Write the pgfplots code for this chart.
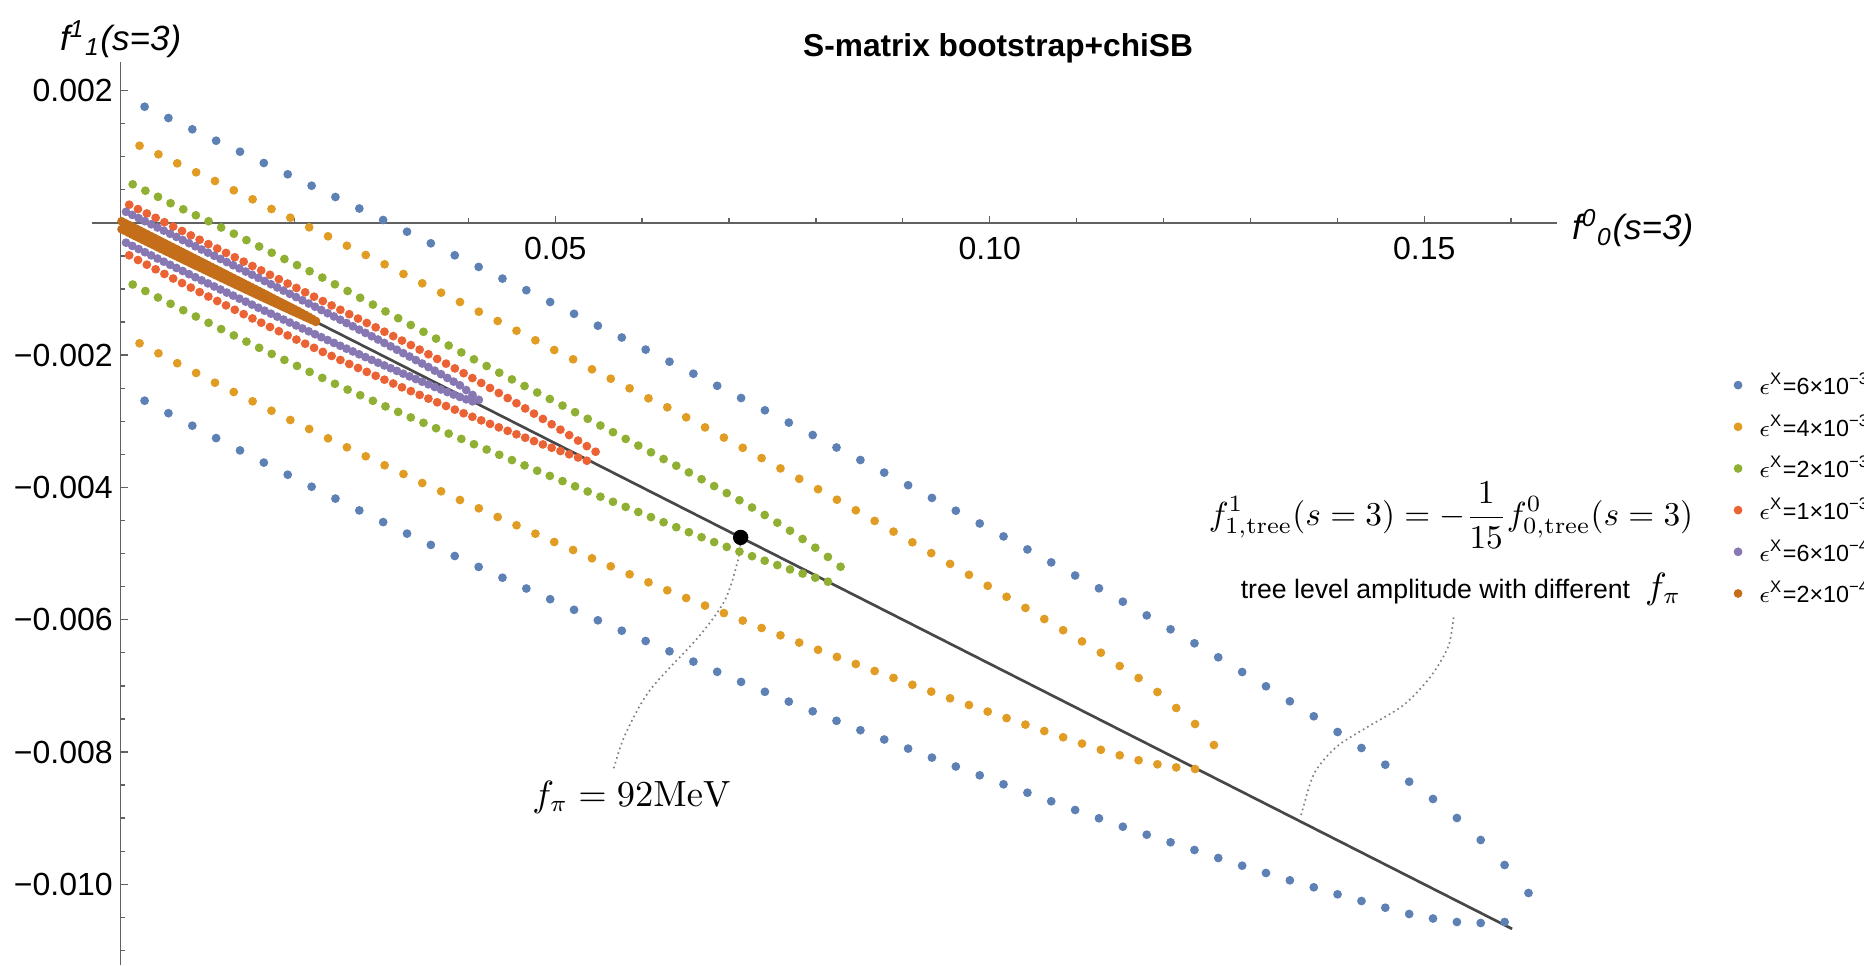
\documentclass[border=0pt]{standalone}
\usepackage[no-math]{fontspec}
\setmainfont{Liberation Sans}
\usepackage{pgfplots}
\usepackage{pgfplotstable}
\pgfplotsset{compat=1.18}
\definecolor{cA}{HTML}{5E81B5}
\definecolor{cB}{HTML}{E19C24}
\definecolor{cC}{HTML}{8FB032}
\definecolor{cD}{HTML}{EB6235}
\definecolor{cE}{HTML}{8778B3}
\definecolor{cF}{HTML}{C56E1A}

% eps = 6e-3 : x, upper bound, lower bound
\pgfplotstableread{
x u l
0.00275 1.7551e-3 -2.6893e-3
0.00549 1.5843e-3 -2.8783e-3
0.00824 1.4135e-3 -3.0673e-3
0.01098 1.2411e-3 -3.2547e-3
0.01373 1.0748e-3 -3.4407e-3
0.01647 0.9040e-3 -3.6251e-3
0.01922 0.7332e-3 -3.8080e-3
0.02197 0.5609e-3 -3.9894e-3
0.02471 0.3900e-3 -4.1693e-3
0.02746 0.2162e-3 -4.3477e-3
0.03020 0.0423e-3 -4.5246e-3
0.03295 -0.1345e-3 -4.6984e-3
0.03569 -0.3099e-3 -4.8692e-3
0.03844 -0.4913e-3 -5.0370e-3
0.04119 -0.6667e-3 -5.2018e-3
0.04393 -0.8435e-3 -5.3651e-3
0.04668 -1.0189e-3 -5.5283e-3
0.04942 -1.1973e-3 -5.6901e-3
0.05217 -1.3757e-3 -5.8504e-3
0.05491 -1.5556e-3 -6.0091e-3
0.05766 -1.7339e-3 -6.1663e-3
0.06041 -1.9169e-3 -6.3220e-3
0.06315 -2.0998e-3 -6.4777e-3
0.06590 -2.2812e-3 -6.6334e-3
0.06864 -2.4641e-3 -6.7876e-3
0.07139 -2.6486e-3 -6.9403e-3
0.07413 -2.8345e-3 -7.0900e-3
0.07688 -3.0204e-3 -7.2381e-3
0.07963 -3.2079e-3 -7.3847e-3
0.08237 -3.3968e-3 -7.5283e-3
0.08512 -3.5858e-3 -7.6704e-3
0.08786 -3.7763e-3 -7.8110e-3
0.09061 -3.9667e-3 -7.9486e-3
0.09335 -4.1587e-3 -8.0847e-3
0.09610 -4.3522e-3 -8.2192e-3
0.09885 -4.5457e-3 -8.3522e-3
0.10159 -4.7408e-3 -8.4883e-3
0.10434 -4.9373e-3 -8.6153e-3
0.10708 -5.1338e-3 -8.7453e-3
0.10983 -5.3318e-3 -8.8768e-3
0.11257 -5.5253e-3 -9.0023e-3
0.11532 -5.7279e-3 -9.1293e-3
0.11807 -5.9350e-3 -9.2502e-3
0.12081 -6.1451e-3 -9.3651e-3
0.12356 -6.3568e-3 -9.4815e-3
0.12630 -6.5684e-3 -9.6024e-3
0.12905 -6.7906e-3 -9.7188e-3
0.13179 -7.0068e-3 -9.8292e-3
0.13454 -7.2336e-3 -9.9396e-3
0.13729 -7.4603e-3 -10.0454e-3
0.14003 -7.6977e-3 -10.1512e-3
0.14278 -7.9395e-3 -10.2525e-3
0.14552 -8.1920e-3 -10.3538e-3
0.14827 -8.4490e-3 -10.4490e-3
0.15101 -8.7105e-3 -10.5170e-3
0.15376 -8.9977e-3 -10.5699e-3
0.15650 -9.3303e-3 -10.5850e-3
0.15925 -9.7083e-3 -10.5699e-3
0.16200 -10.1315e-3 nan
}\epsA

% eps = 4e-3
\pgfplotstableread{
x u l
0.00217 1.1655e-3 -1.8216e-3
0.00434 1.0355e-3 -1.9728e-3
0.00651 0.8995e-3 -2.1224e-3
0.00868 0.7634e-3 -2.2706e-3
0.01085 0.6319e-3 -2.4172e-3
0.01301 0.4913e-3 -2.5578e-3
0.01518 0.3553e-3 -2.6984e-3
0.01735 0.2086e-3 -2.8405e-3
0.01952 0.0771e-3 -2.9811e-3
0.02169 -0.0680e-3 -3.1172e-3
0.02386 -0.2041e-3 -3.2578e-3
0.02603 -0.3462e-3 -3.3938e-3
0.02820 -0.4868e-3 -3.5299e-3
0.03037 -0.6274e-3 -3.6659e-3
0.03254 -0.7740e-3 -3.7975e-3
0.03470 -0.9146e-3 -3.9335e-3
0.03687 -1.0567e-3 -4.0590e-3
0.03904 -1.1973e-3 -4.1905e-3
0.04121 -1.3439e-3 -4.3160e-3
0.04338 -1.4845e-3 -4.4475e-3
0.04555 -1.6312e-3 -4.5730e-3
0.04772 -1.7763e-3 -4.7000e-3
0.04989 -1.9229e-3 -4.8254e-3
0.05206 -2.0635e-3 -4.9463e-3
0.05423 -2.2147e-3 -5.0718e-3
0.05639 -2.3568e-3 -5.1927e-3
0.05856 -2.5019e-3 -5.3137e-3
0.06073 -2.6531e-3 -5.4346e-3
0.06290 -2.7891e-3 -5.5556e-3
0.06507 -2.9403e-3 -5.6720e-3
0.06724 -3.0930e-3 -5.7868e-3
0.06941 -3.2472e-3 -5.9002e-3
0.07158 -3.4014e-3 -6.0136e-3
0.07375 -3.5571e-3 -6.1255e-3
0.07592 -3.7128e-3 -6.2358e-3
0.07808 -3.8700e-3 -6.3462e-3
0.08025 -4.0272e-3 -6.4550e-3
0.08242 -4.1860e-3 -6.5624e-3
0.08459 -4.3462e-3 -6.6697e-3
0.08676 -4.5065e-3 -6.7755e-3
0.08893 -4.6682e-3 -6.8798e-3
0.09110 -4.8300e-3 -6.9841e-3
0.09327 -4.9932e-3 -7.0869e-3
0.09544 -5.1565e-3 -7.1882e-3
0.09761 -5.3212e-3 -7.2895e-3
0.09977 -5.4875e-3 -7.3893e-3
0.10194 -5.6538e-3 -7.4875e-3
0.10411 -5.8216e-3 -7.5858e-3
0.10628 -5.9894e-3 -7.6825e-3
0.10845 -6.1587e-3 -7.7778e-3
0.11062 -6.3280e-3 -7.8730e-3
0.11279 -6.4989e-3 -7.9667e-3
0.11496 -6.7000e-3 -8.0499e-3
0.11713 -6.8814e-3 -8.1240e-3
0.11930 -7.0930e-3 -8.1859e-3
0.12146 -7.3349e-3 -8.2328e-3
0.12363 -7.5768e-3 -8.2570e-3
0.12580 -7.8942e-3 nan
}\epsB

% eps = 2e-3
\pgfplotstableread{
x u l
0.00138 0.5820e-3 -0.9327e-3
0.00284 0.4853e-3 -1.0310e-3
0.00429 0.3930e-3 -1.1293e-3
0.00574 0.2963e-3 -1.2245e-3
0.00720 0.2041e-3 -1.3212e-3
0.00865 0.1134e-3 -1.4165e-3
0.01011 0.0242e-3 -1.5117e-3
0.01156 -0.0711e-3 -1.6070e-3
0.01302 -0.1648e-3 -1.7022e-3
0.01447 -0.2615e-3 -1.7959e-3
0.01593 -0.3583e-3 -1.8896e-3
0.01738 -0.4520e-3 -1.9819e-3
0.01884 -0.5472e-3 -2.0726e-3
0.02029 -0.6395e-3 -2.1633e-3
0.02174 -0.7317e-3 -2.2540e-3
0.02320 -0.8284e-3 -2.3447e-3
0.02465 -0.9297e-3 -2.4339e-3
0.02611 -1.0310e-3 -2.5216e-3
0.02756 -1.1338e-3 -2.6062e-3
0.02902 -1.2366e-3 -2.6909e-3
0.03047 -1.3394e-3 -2.7755e-3
0.03193 -1.4422e-3 -2.8587e-3
0.03338 -1.5450e-3 -2.9418e-3
0.03484 -1.6478e-3 -3.0234e-3
0.03629 -1.7506e-3 -3.1051e-3
0.03774 -1.8549e-3 -3.1867e-3
0.03920 -1.9592e-3 -3.2668e-3
0.04065 -2.0635e-3 -3.3470e-3
0.04211 -2.1648e-3 -3.4271e-3
0.04356 -2.2661e-3 -3.5072e-3
0.04502 -2.3673e-3 -3.5873e-3
0.04647 -2.4671e-3 -3.6674e-3
0.04793 -2.5654e-3 -3.7476e-3
0.04938 -2.6636e-3 -3.8262e-3
0.05084 -2.7634e-3 -3.9048e-3
0.05229 -2.8632e-3 -3.9834e-3
0.05374 -2.9630e-3 -4.0620e-3
0.05520 -3.0643e-3 -4.1406e-3
0.05665 -3.1655e-3 -4.2177e-3
0.05811 -3.2668e-3 -4.2948e-3
0.05956 -3.3681e-3 -4.3719e-3
0.06102 -3.4694e-3 -4.4490e-3
0.06247 -3.5707e-3 -4.5261e-3
0.06393 -3.6720e-3 -4.6017e-3
0.06538 -3.7732e-3 -4.6773e-3
0.06684 -3.8761e-3 -4.7529e-3
0.06829 -3.9803e-3 -4.8269e-3
0.06974 -4.0862e-3 -4.8995e-3
0.07120 -4.1935e-3 -4.9705e-3
0.07265 -4.3039e-3 -5.0401e-3
0.07411 -4.4172e-3 -5.1081e-3
0.07556 -4.5337e-3 -5.1746e-3
0.07702 -4.6546e-3 -5.2396e-3
0.07847 -4.7800e-3 -5.3031e-3
0.07993 -4.9116e-3 -5.3651e-3
0.08138 -5.0507e-3 -5.4256e-3
0.08284 -5.1988e-3 nan
}\epsC

% eps = 1e-3
\pgfplotstableread{
x u l
0.00098 0.2736e-3 -0.4913e-3
0.00199 0.2074e-3 -0.5624e-3
0.00301 0.1412e-3 -0.6330e-3
0.00402 0.0750e-3 -0.7031e-3
0.00503 0.0088e-3 -0.7728e-3
0.00604 -0.0574e-3 -0.8422e-3
0.00706 -0.1237e-3 -0.9110e-3
0.00807 -0.1899e-3 -0.9793e-3
0.00908 -0.2561e-3 -1.0473e-3
0.01009 -0.3223e-3 -1.1147e-3
0.01111 -0.3885e-3 -1.1819e-3
0.01212 -0.4547e-3 -1.2484e-3
0.01313 -0.5209e-3 -1.3146e-3
0.01415 -0.5872e-3 -1.3804e-3
0.01516 -0.6534e-3 -1.4457e-3
0.01617 -0.7196e-3 -1.5104e-3
0.01718 -0.7858e-3 -1.5748e-3
0.01820 -0.8520e-3 -1.6387e-3
0.01921 -0.9182e-3 -1.7022e-3
0.02022 -0.9844e-3 -1.7652e-3
0.02123 -1.0507e-3 -1.8278e-3
0.02225 -1.1169e-3 -1.8901e-3
0.02326 -1.1831e-3 -1.9518e-3
0.02427 -1.2493e-3 -2.0130e-3
0.02528 -1.3155e-3 -2.0739e-3
0.02630 -1.3817e-3 -2.1342e-3
0.02731 -1.4479e-3 -2.1943e-3
0.02832 -1.5141e-3 -2.2537e-3
0.02934 -1.5804e-3 -2.3128e-3
0.03035 -1.6466e-3 -2.3713e-3
0.03136 -1.7131e-3 -2.4295e-3
0.03237 -1.7804e-3 -2.4872e-3
0.03339 -1.8485e-3 -2.5445e-3
0.03440 -1.9173e-3 -2.6014e-3
0.03541 -1.9870e-3 -2.6578e-3
0.03642 -2.0575e-3 -2.7137e-3
0.03744 -2.1288e-3 -2.7692e-3
0.03845 -2.2008e-3 -2.8242e-3
0.03946 -2.2736e-3 -2.8788e-3
0.04047 -2.3473e-3 -2.9329e-3
0.04149 -2.4216e-3 -2.9867e-3
0.04250 -2.4969e-3 -3.0399e-3
0.04351 -2.5728e-3 -3.0927e-3
0.04453 -2.6496e-3 -3.1451e-3
0.04554 -2.7271e-3 -3.1970e-3
0.04655 -2.8056e-3 -3.2486e-3
0.04756 -2.8847e-3 -3.2996e-3
0.04858 -2.9646e-3 -3.3503e-3
0.04959 -3.0454e-3 -3.4005e-3
0.05060 -3.1268e-3 -3.4502e-3
0.05161 -3.2092e-3 -3.4995e-3
0.05263 -3.2922e-3 -3.5483e-3
0.05364 -3.3761e-3 -3.5967e-3
0.05465 -3.4608e-3 nan
}\epsD

% eps = 6e-4
\pgfplotstableread{
x u l
0.000610 166.3e-6 -300.7e-6
0.001335 119.0e-6 -349.0e-6
0.002060 71.7e-6 -396.3e-6
0.002785 24.3e-6 -444.7e-6
0.003510 -23.0e-6 -492.0e-6
0.004235 -71.3e-6 -540.3e-6
0.004960 -118.7e-6 -587.7e-6
0.005685 -166.0e-6 -635.0e-6
0.006410 -213.3e-6 -682.3e-6
0.007135 -260.7e-6 -728.7e-6
0.007860 -308.0e-6 -776.0e-6
0.008585 -355.3e-6 -822.3e-6
0.009310 -403.7e-6 -869.7e-6
0.010035 -451.0e-6 -916.0e-6
0.010760 -498.3e-6 -962.3e-6
0.011485 -546.7e-6 -1008.7e-6
0.012210 -594.0e-6 -1055.0e-6
0.012935 -641.3e-6 -1100.3e-6
0.013660 -688.7e-6 -1146.7e-6
0.014385 -737.0e-6 -1192.0e-6
0.015110 -784.3e-6 -1237.3e-6
0.015835 -831.7e-6 -1283.7e-6
0.016560 -880.0e-6 -1329.0e-6
0.017285 -928.3e-6 -1373.3e-6
0.018010 -976.7e-6 -1418.7e-6
0.018735 -1025.0e-6 -1463.0e-6
0.019460 -1074.3e-6 -1507.3e-6
0.020185 -1122.7e-6 -1551.7e-6
0.020910 -1172.0e-6 -1597.0e-6
0.021635 -1220.3e-6 -1640.3e-6
0.022360 -1268.7e-6 -1684.7e-6
0.023085 -1318.0e-6 -1729.0e-6
0.023810 -1366.3e-6 -1772.3e-6
0.024535 -1415.7e-6 -1815.7e-6
0.025260 -1465.0e-6 -1859.0e-6
0.025985 -1515.3e-6 -1902.3e-6
0.026710 -1564.7e-6 -1944.7e-6
0.027435 -1615.0e-6 -1988.0e-6
0.028160 -1664.3e-6 -2030.3e-6
0.028885 -1714.7e-6 -2072.7e-6
0.029610 -1765.0e-6 -2115.0e-6
0.030335 -1816.3e-6 -2156.3e-6
0.031060 -1867.7e-6 -2197.7e-6
0.031785 -1919.0e-6 -2239.0e-6
0.032510 -1970.3e-6 -2280.3e-6
0.033235 -2021.7e-6 -2321.7e-6
0.033960 -2075.0e-6 -2362.0e-6
0.034685 -2127.3e-6 -2402.3e-6
0.035410 -2180.7e-6 -2441.7e-6
0.036135 -2235.0e-6 -2482.0e-6
0.036860 -2288.3e-6 -2520.3e-6
0.037585 -2344.7e-6 -2558.7e-6
0.038310 -2401.0e-6 -2597.0e-6
0.039035 -2456.3e-6 -2633.3e-6
0.039760 -2528.7e-6 -2668.7e-6
0.040485 -2602.0e-6 -2699.0e-6
0.041210 -2676.3e-6 nan
}\epsE

% eps = 2e-4
\pgfplotstableread{
x u l
0.000100 23.3e-6 -96.7e-6
0.000514 -4.3e-6 -124.3e-6
0.000928 -31.9e-6 -151.9e-6
0.001342 -59.5e-6 -179.5e-6
0.001756 -87.1e-6 -207.1e-6
0.002170 -114.7e-6 -233.7e-6
0.002584 -142.3e-6 -261.3e-6
0.002998 -169.9e-6 -287.9e-6
0.003412 -197.5e-6 -314.5e-6
0.003826 -225.1e-6 -341.1e-6
0.004240 -252.7e-6 -368.7e-6
0.004654 -280.3e-6 -395.3e-6
0.005068 -307.9e-6 -421.9e-6
0.005482 -335.5e-6 -447.5e-6
0.005896 -363.1e-6 -475.1e-6
0.006310 -390.7e-6 -500.7e-6
0.006724 -418.3e-6 -527.3e-6
0.007138 -445.9e-6 -553.9e-6
0.007552 -473.5e-6 -579.5e-6
0.007966 -501.1e-6 -606.1e-6
0.008380 -528.7e-6 -632.7e-6
0.008794 -556.3e-6 -658.3e-6
0.009208 -583.9e-6 -683.9e-6
0.009622 -611.5e-6 -710.5e-6
0.010036 -639.1e-6 -736.1e-6
0.010450 -666.7e-6 -762.7e-6
0.010864 -694.3e-6 -788.3e-6
0.011278 -721.9e-6 -813.9e-6
0.011692 -749.5e-6 -840.5e-6
0.012106 -777.1e-6 -866.1e-6
0.012520 -804.7e-6 -892.7e-6
0.012934 -832.3e-6 -917.3e-6
0.013348 -859.9e-6 -943.9e-6
0.013762 -887.5e-6 -969.5e-6
0.014176 -915.1e-6 -995.1e-6
0.014590 -942.7e-6 -1020.7e-6
0.015004 -970.3e-6 -1046.3e-6
0.015418 -997.9e-6 -1071.9e-6
0.015832 -1025.5e-6 -1097.5e-6
0.016246 -1053.1e-6 -1123.1e-6
0.016660 -1081.7e-6 -1148.7e-6
0.017074 -1109.3e-6 -1173.3e-6
0.017488 -1137.9e-6 -1198.9e-6
0.017902 -1165.5e-6 -1223.5e-6
0.018316 -1193.1e-6 -1249.1e-6
0.018730 -1220.7e-6 -1274.7e-6
0.019144 -1248.3e-6 -1299.3e-6
0.019558 -1275.9e-6 -1324.9e-6
0.019972 -1303.5e-6 -1349.5e-6
0.020386 -1331.1e-6 -1374.1e-6
0.020800 -1360.7e-6 -1398.7e-6
0.021214 -1389.3e-6 -1424.3e-6
0.021628 -1419.9e-6 -1447.9e-6
0.022042 -1451.5e-6 -1472.5e-6
0.022456 -1484.1e-6 -1497.1e-6
}\epsF

\begin{document}
\begin{tikzpicture}
\useasboundingbox (-27.51pt,0pt) rectangle (531.69pt,289.5pt);
\begin{axis}[
  at={(0pt,0pt)}, anchor=south west,
  scale only axis, width=439.59pt, height=270.9pt,
  xmin=-0.003337, xmax=0.16528, ymin=-0.01122, ymax=0.0024309,
  axis lines=middle, clip=false,
  axis line style={-, black!62, line width=0.45pt},
  every inner x axis line/.append style={-},
  every inner y axis line/.append style={-},
  xtick={0.05,0.10,0.15}, xticklabels={0.05,0.10,0.15},
  ytick={-0.010,-0.008,-0.006,-0.004,-0.002,0.002},
  yticklabels={−0.010,−0.008,−0.006,−0.004,−0.002,0.002},
  minor xtick={0.01,0.02,0.03,0.04,0.06,0.07,0.08,0.09,0.11,0.12,0.13,0.14,0.16},
  minor ytick={-0.011,-0.0105,-0.0095,-0.009,-0.0085,-0.0075,-0.007,-0.0065,-0.0055,-0.005,-0.0045,-0.0035,-0.003,-0.0025,-0.0015,-0.001,-0.0005,0.0005,0.001,0.0015},
  scaled x ticks=false, scaled y ticks=false,
  tick align=inside, major tick length=2.1pt, minor tick length=1.3pt,
  tick style={black!62, line width=0.4pt},
  ticklabel style={font=\fontsize{9.6}{11}\selectfont},
  xticklabel style={anchor=north, inner sep=0pt, yshift=-4.2pt},
  yticklabel style={anchor=east, inner sep=0pt, xshift=-2.2pt},
  legend cell align=left,
  legend image code/.code={\draw[#1] plot coordinates {(0pt,0pt)};},
  legend style={at={(1.12106,0.66523)}, anchor=north west, draw=none, fill=none,
    inner sep=0pt, outer sep=0pt, row sep=0pt, column sep=5.2pt,
    font=\fontsize{7}{8}\selectfont,
    nodes={inner sep=0pt, text height=9.1pt, text depth=3.4pt}},
  every axis plot/.append style={only marks, mark=*, mark size=1.1pt},
]
\addplot[cA, mark options={draw=none, fill=cA}] table[x=x, y=u] {\epsA};
\addlegendentry{$\epsilon$\textsuperscript{X}=6×10\textsuperscript{−3}}
\addplot[forget plot, cA, mark options={draw=none, fill=cA}] table[x=x, y=l] {\epsA};
\addplot[cB, mark options={draw=none, fill=cB}] table[x=x, y=u] {\epsB};
\addlegendentry{$\epsilon$\textsuperscript{X}=4×10\textsuperscript{−3}}
\addplot[forget plot, cB, mark options={draw=none, fill=cB}] table[x=x, y=l] {\epsB};
\addplot[cC, mark options={draw=none, fill=cC}] table[x=x, y=u] {\epsC};
\addlegendentry{$\epsilon$\textsuperscript{X}=2×10\textsuperscript{−3}}
\addplot[forget plot, cC, mark options={draw=none, fill=cC}] table[x=x, y=l] {\epsC};
\addplot[cD, mark options={draw=none, fill=cD}] table[x=x, y=u] {\epsD};
\addlegendentry{$\epsilon$\textsuperscript{X}=1×10\textsuperscript{−3}}
\addplot[forget plot, cD, mark options={draw=none, fill=cD}] table[x=x, y=l] {\epsD};
\addplot[cE, mark options={draw=none, fill=cE}] table[x=x, y=u] {\epsE};
\addlegendentry{$\epsilon$\textsuperscript{X}=6×10\textsuperscript{−4}}
\addplot[forget plot, cE, mark options={draw=none, fill=cE}] table[x=x, y=l] {\epsE};
\addplot[cF, mark options={draw=none, fill=cF}] table[x=x, y=u] {\epsF};
\addlegendentry{$\epsilon$\textsuperscript{X}=2×10\textsuperscript{−4}}
\addplot[forget plot, cF, mark options={draw=none, fill=cF}] table[x=x, y=l] {\epsF};

% tree level line f^1_1 = -f^0_0/15
\addplot[forget plot, no marks, sharp plot, black!72, line width=0.8pt] coordinates {(0,0) (0.16011,-0.010674)};
% dotted pointers
\addplot[forget plot, no marks, smooth, densely dotted, black!50, line width=0.5pt] coordinates {
  (0.05674,-0.008246) (0.05803,-0.007743) (0.06091,-0.007063) (0.06651,-0.006257) (0.06954,-0.005702) (0.07104,-0.005097) (0.07134,-0.004800)};
\addplot[forget plot, no marks, smooth, densely dotted, black!50, line width=0.5pt] coordinates {
  (0.15338,-0.005964) (0.15276,-0.006408) (0.15072,-0.006862) (0.14763,-0.007290) (0.14352,-0.007618) (0.13992,-0.007920) (0.13735,-0.008322) (0.13594,-0.008902) (0.13582,-0.008968)};
% f_pi = 92 MeV point
\addplot[forget plot, only marks, mark=*, mark size=2.1pt, black] coordinates {(0.07134,-0.004756)};

\node[font=\fontsize{9.5}{11}\selectfont\bfseries] at (axis cs:0.10096,0.002643) {S-matrix bootstrap+chiSB};
\node[font=\fontsize{10.5}{12}\selectfont\itshape, inner sep=0pt] at (axis cs:0,0.002780) {f\textsuperscript{1}\textsubscript{1}(s=3)};
\node[font=\fontsize{10.5}{12}\selectfont\itshape, inner sep=0pt, anchor=west] at (axis cs:0.16695,-0.0000786) {f\textsuperscript{0}\textsubscript{0}(s=3)};
\node[font=\fontsize{9.6}{11}\selectfont, inner sep=0pt] at (axis cs:0.15308,-0.004417) {$\displaystyle f^{1}_{1,\mathrm{tree}}(s=3)=-\frac{1}{15}f^{0}_{0,\mathrm{tree}}(s=3)$};
\node[inner sep=0pt] at (axis cs:0.15423,-0.005540) {\fontsize{8}{9.6}\selectfont tree level amplitude with different\hspace{4.5pt}{\fontsize{10.5}{12}\selectfont$f_\pi$}};
\node[font=\fontsize{10.5}{12}\selectfont, inner sep=0pt] at (axis cs:0.05880,-0.008681) {$f_\pi=92\mathrm{MeV}$};
\end{axis}
\end{tikzpicture}
\end{document}
